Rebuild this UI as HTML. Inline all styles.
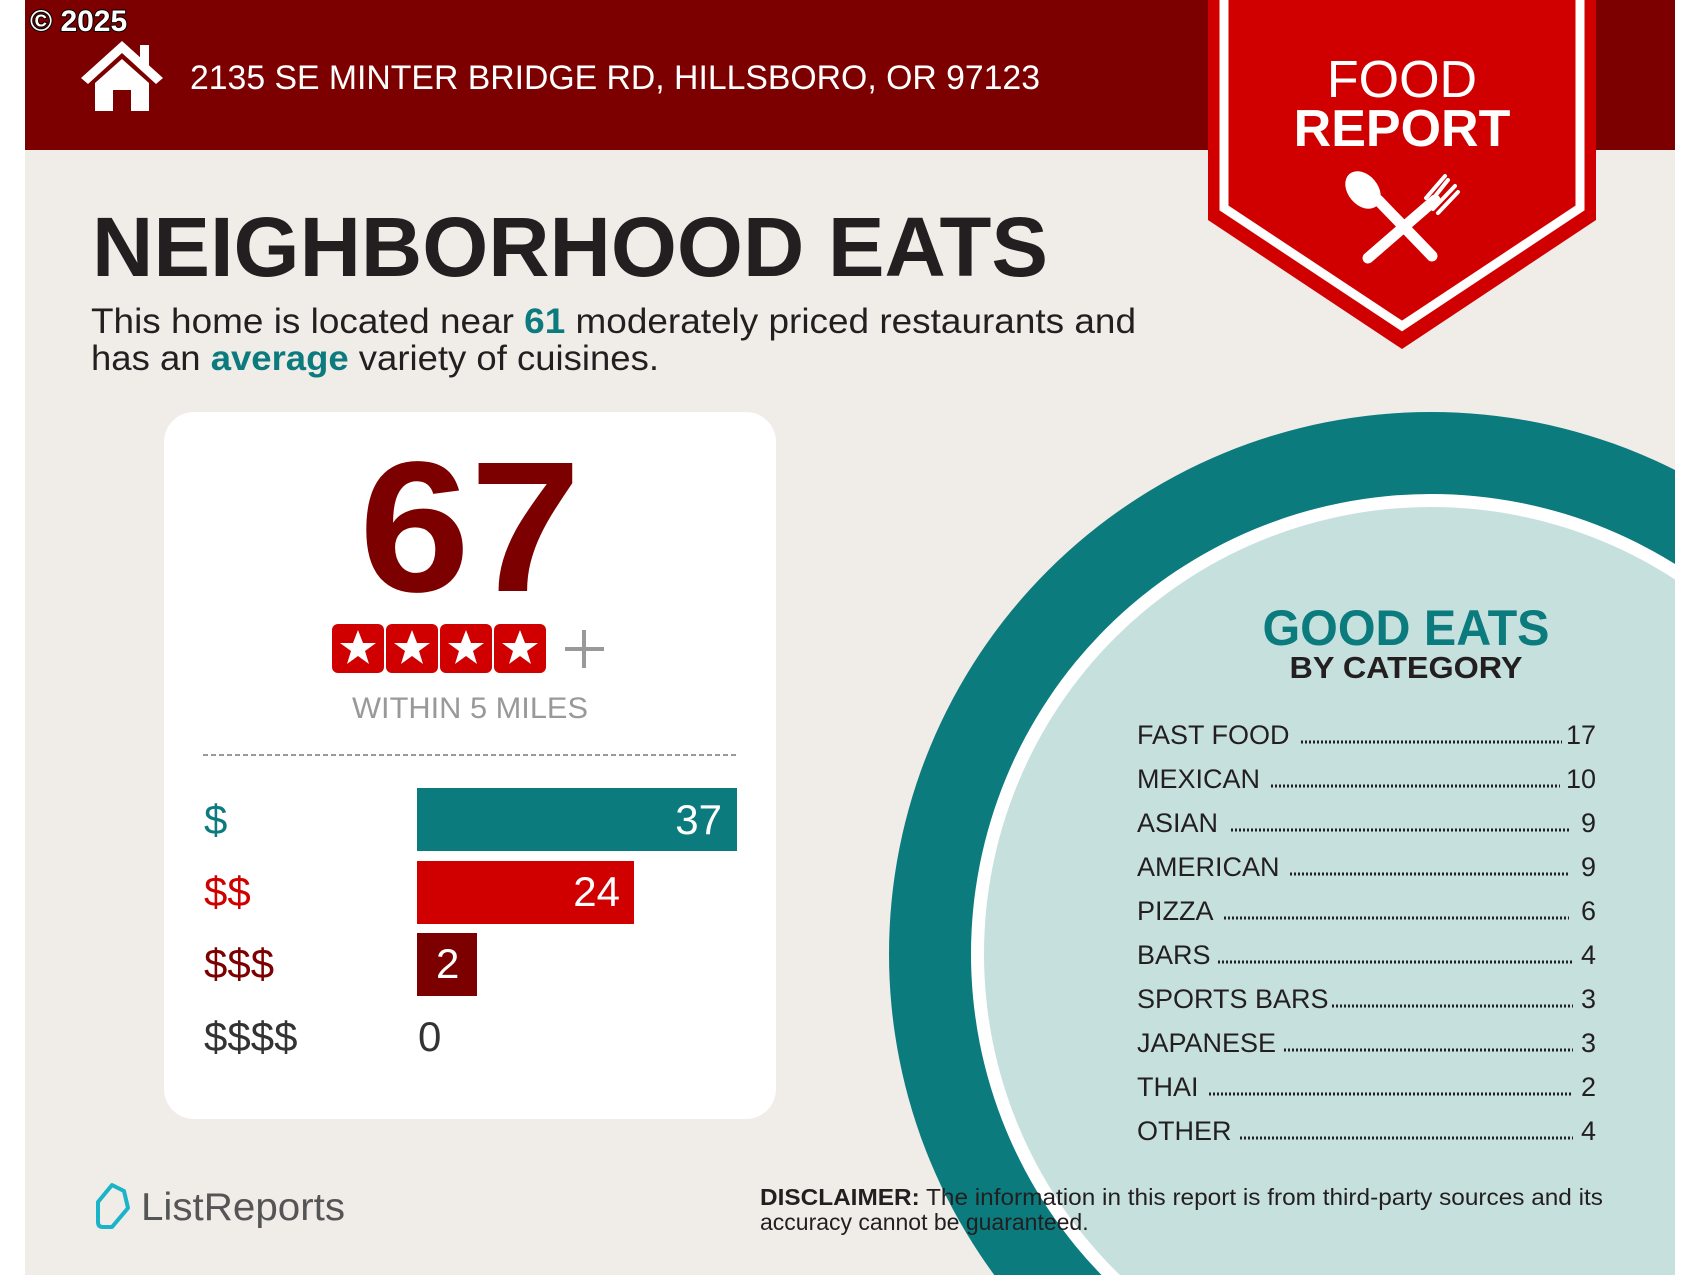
<!DOCTYPE html>
<html><head><meta charset="utf-8"><style>
html,body{margin:0;padding:0;background:#fff;width:1700px;height:1275px;overflow:hidden;}
svg{display:block;font-family:"Liberation Sans",sans-serif;}
</style></head><body>
<svg width="1700" height="1275" viewBox="0 0 1700 1275" xmlns="http://www.w3.org/2000/svg">
<defs><clipPath id="pg"><rect x="25" y="0" width="1650" height="1275"/></clipPath></defs>
<rect x="0" y="0" width="1700" height="1275" fill="#fff"/>
<rect x="25" y="0" width="1650" height="1275" fill="#f0ece8"/>
<rect x="25" y="0" width="1650" height="150" fill="#7d0000"/>
<g clip-path="url(#pg)">
<circle cx="1431" cy="954" r="542" fill="#0b7b7e"/>
<circle cx="1431" cy="954" r="460" fill="#fff"/>
<circle cx="1431" cy="954" r="447" fill="#c6e0de"/>
</g>
<polygon points="1208,0 1596,0 1596,220 1402,349 1208,220" fill="#d00000"/>
<polyline points="1224,0 1224,208 1402,326 1580,208 1580,0" fill="none" stroke="#fff" stroke-width="9"/>
<text x="1402" y="97" font-size="52" fill="#fff" text-anchor="middle">FOOD</text>
<text x="1402" y="146" font-size="52" font-weight="bold" fill="#fff" text-anchor="middle">REPORT</text>
<g stroke="#fff" stroke-linecap="round" fill="#fff">
<line x1="1435" y1="200" x2="1368" y2="258" stroke-width="11"/>
<line x1="1378" y1="200" x2="1432" y2="256" stroke-width="11"/>
<ellipse cx="1363" cy="190" rx="15" ry="21" transform="rotate(-40 1363 190)" stroke="none"/>
<path d="M1428,205 L1448,180 M1433,209 L1455,186 M1438,213 L1458,192 M1426,198 L1445,176" stroke-width="4"/>
</g>
<text x="30" y="31" font-size="30" font-weight="bold" fill="#fff" stroke="#000" stroke-width="2" paint-order="stroke">© 2025</text>
<g fill="#fff">
<polygon points="122,41 81,78 88,84 122,53 156,84 163,78"/>
<rect x="140" y="45" width="9" height="22"/>
<polygon points="95,83 122,59 149,83 149,111 131,111 131,90 113,90 113,111 95,111"/>
</g>
<text x="190" y="89" font-size="34" fill="#fff" textLength="850" lengthAdjust="spacingAndGlyphs">2135 SE MINTER BRIDGE RD, HILLSBORO, OR 97123</text>
<text x="92" y="276" font-size="84" font-weight="bold" fill="#231f20" textLength="956" lengthAdjust="spacingAndGlyphs">NEIGHBORHOOD EATS</text>
<text x="91" y="333" font-size="35" fill="#231f20" textLength="1045" lengthAdjust="spacingAndGlyphs">This home is located near <tspan fill="#0b7b7e" font-weight="bold">61</tspan> moderately priced restaurants and</text>
<text x="91" y="370" font-size="35" fill="#231f20" textLength="568" lengthAdjust="spacingAndGlyphs">has an <tspan fill="#0b7b7e" font-weight="bold">average</tspan> variety of cuisines.</text>
<rect x="164" y="412" width="612" height="707" rx="30" fill="#fff"/>
<text x="470" y="591" font-size="186" font-weight="bold" fill="#7d0000" text-anchor="middle" textLength="222" lengthAdjust="spacingAndGlyphs">67</text>
<g>
<rect x="332" y="624" width="52" height="49" rx="6" fill="#d00000"/>
<rect x="386" y="624" width="52" height="49" rx="6" fill="#d00000"/>
<rect x="440" y="624" width="52" height="49" rx="6" fill="#d00000"/>
<rect x="494" y="624" width="52" height="49" rx="6" fill="#d00000"/>
<g fill="#fff">
<polygon transform="translate(358,649)" points="0,-19 5,-6 18,-6 7,2 11,15 0,7 -11,15 -7,2 -18,-6 -5,-6"/>
<polygon transform="translate(412,649)" points="0,-19 5,-6 18,-6 7,2 11,15 0,7 -11,15 -7,2 -18,-6 -5,-6"/>
<polygon transform="translate(466,649)" points="0,-19 5,-6 18,-6 7,2 11,15 0,7 -11,15 -7,2 -18,-6 -5,-6"/>
<polygon transform="translate(520,649)" points="0,-19 5,-6 18,-6 7,2 11,15 0,7 -11,15 -7,2 -18,-6 -5,-6"/>
</g>
<path d="M584,630 V668 M565,649 H604" stroke="#999" stroke-width="4"/>
</g>
<text x="470" y="718" font-size="30" fill="#999" text-anchor="middle" textLength="236" lengthAdjust="spacingAndGlyphs">WITHIN 5 MILES</text>
<line x1="203" y1="755" x2="737" y2="755" stroke="#999" stroke-width="2" stroke-dasharray="5,3"/>
<rect x="417" y="788" width="320" height="63" fill="#0b7b7e"/>
<rect x="417" y="861" width="217" height="63" fill="#d00000"/>
<rect x="417" y="933" width="60" height="63" fill="#7d0000"/>
<g font-size="42">
<text x="204" y="834" fill="#0b7b7e">$</text>
<text x="204" y="906" fill="#d00000">$$</text>
<text x="204" y="978" fill="#7d0000">$$$</text>
<text x="204" y="1051" fill="#333">$$$$</text>
<text x="722" y="834" fill="#fff" text-anchor="end">37</text>
<text x="620" y="906" fill="#fff" text-anchor="end">24</text>
<text x="436" y="978" fill="#fff">2</text>
<text x="418" y="1051" fill="#333">0</text>
</g>
<text x="1406" y="645" font-size="50" font-weight="bold" fill="#0b7b7e" text-anchor="middle" textLength="287" lengthAdjust="spacingAndGlyphs">GOOD EATS</text>
<text x="1406" y="678" font-size="31" font-weight="bold" fill="#231f20" text-anchor="middle" textLength="233" lengthAdjust="spacingAndGlyphs">BY CATEGORY</text>
<g font-size="27" fill="#231f20">
<text x="1137" y="744">FAST FOOD</text><text x="1596" y="744" text-anchor="end">17</text>
<text x="1137" y="788">MEXICAN</text><text x="1596" y="788" text-anchor="end">10</text>
<text x="1137" y="832">ASIAN</text><text x="1596" y="832" text-anchor="end">9</text>
<text x="1137" y="876">AMERICAN</text><text x="1596" y="876" text-anchor="end">9</text>
<text x="1137" y="920">PIZZA</text><text x="1596" y="920" text-anchor="end">6</text>
<text x="1137" y="964">BARS</text><text x="1596" y="964" text-anchor="end">4</text>
<text x="1137" y="1008">SPORTS BARS</text><text x="1596" y="1008" text-anchor="end">3</text>
<text x="1137" y="1052">JAPANESE</text><text x="1596" y="1052" text-anchor="end">3</text>
<text x="1137" y="1096">THAI</text><text x="1596" y="1096" text-anchor="end">2</text>
<text x="1137" y="1140">OTHER</text><text x="1596" y="1140" text-anchor="end">4</text>
</g>
<g stroke="#231f20" stroke-width="3" stroke-dasharray="2,2">
<line x1="1301" y1="742" x2="1562" y2="742"/>
<line x1="1271" y1="786" x2="1560" y2="786"/>
<line x1="1231" y1="830" x2="1569" y2="830"/>
<line x1="1290" y1="874" x2="1569" y2="874"/>
<line x1="1224" y1="918" x2="1569" y2="918"/>
<line x1="1218" y1="962" x2="1573" y2="962"/>
<line x1="1332" y1="1006" x2="1573" y2="1006"/>
<line x1="1284" y1="1050" x2="1573" y2="1050"/>
<line x1="1209" y1="1094" x2="1573" y2="1094"/>
<line x1="1240" y1="1138" x2="1573" y2="1138"/>
</g>
<path d="M98,1202 L98,1222 Q98,1227 103,1227 L112,1227 L128,1208 L124,1191 L112,1185 Z" fill="none" stroke="#1ab3c8" stroke-width="4" stroke-linejoin="round"/>
<text x="141" y="1220" font-size="39" fill="#555" textLength="204" lengthAdjust="spacingAndGlyphs">ListReports</text>
<text x="760" y="1205" font-size="23" fill="#231f20" textLength="843" lengthAdjust="spacingAndGlyphs"><tspan font-weight="bold">DISCLAIMER:</tspan> The information in this report is from third-party sources and its</text>
<text x="760" y="1230" font-size="23" fill="#231f20">accuracy cannot be guaranteed.</text>
</svg>
</body></html>
